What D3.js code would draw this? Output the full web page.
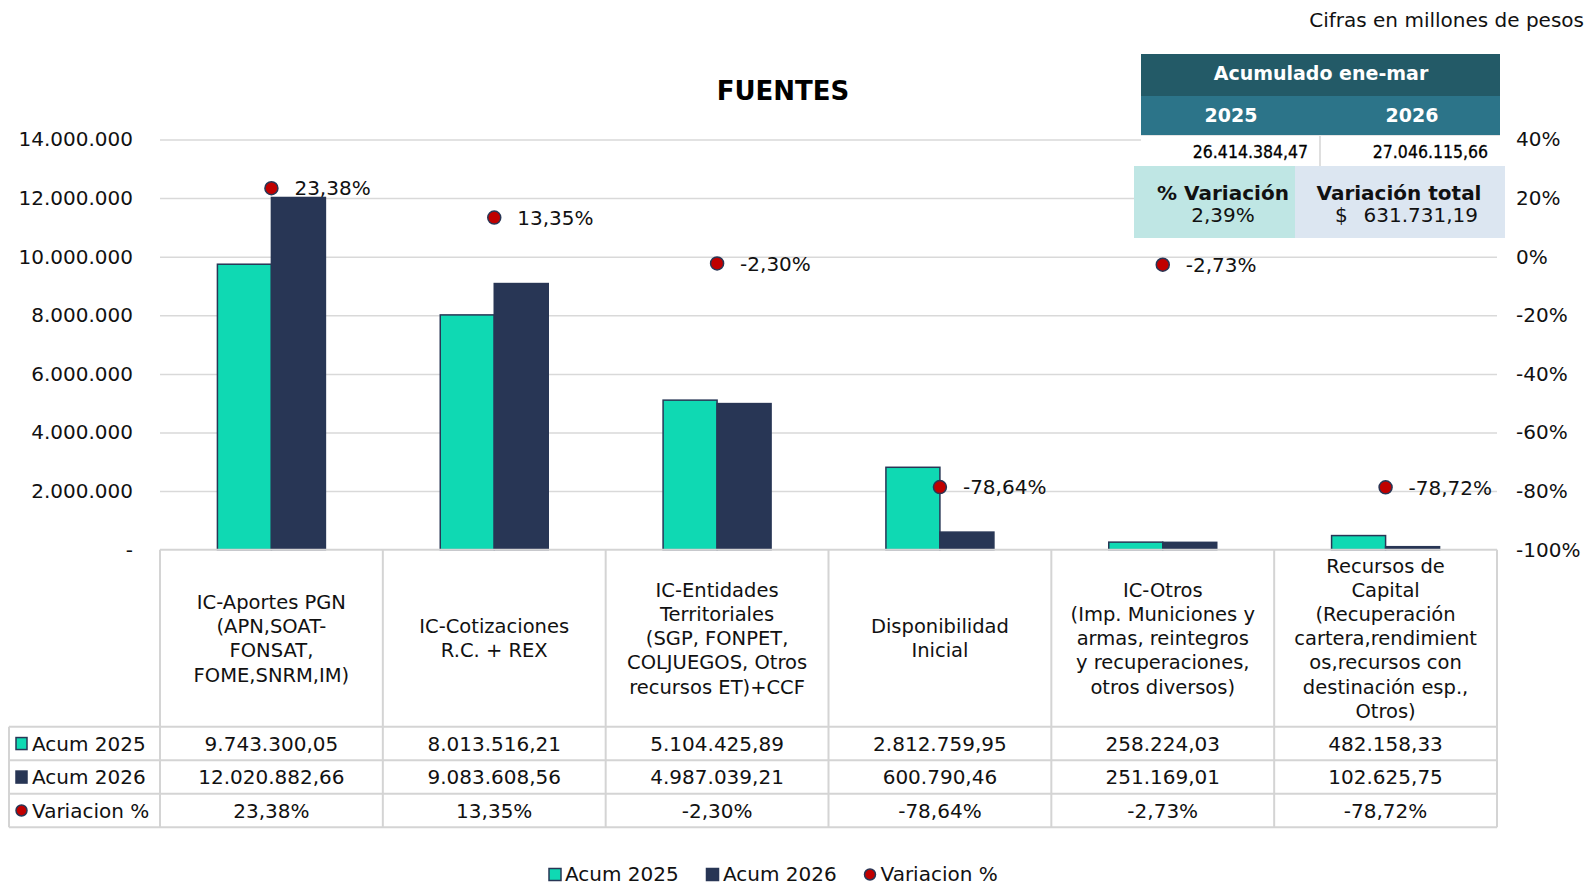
<!DOCTYPE html>
<html>
<head>
<meta charset="utf-8">
<script src="https://cdn.jsdelivr.net/npm/d3@7"></script>
<style>
  body { margin: 0; background: #fff; }
  svg { display: block; font-family: "DejaVu Sans", Verdana, sans-serif; }
  .grid line { stroke: #d9d9d9; stroke-width: 1.5; }
  .grid path { display: none; }
  .axis path { display: none; }
  .axis text { font-family: "DejaVu Sans", Verdana, sans-serif; font-size: 20px; fill: #111; }
  .tbl { stroke: #d4d4d4; stroke-width: 2; }
</style>
</head>
<body>
<div id="chart"></div>
<script>
// categories (already broken into lines as in the original table)
var categories = [
    ["IC-Aportes PGN", "(APN,SOAT-", "FONSAT,", "FOME,SNRM,IM)"],
    ["IC-Cotizaciones", "R.C. + REX"],
    ["IC-Entidades", "Territoriales", "(SGP, FONPET,", "COLJUEGOS, Otros", "recursos ET)+CCF"],
    ["Disponibilidad", "Inicial"],
    ["IC-Otros", "(Imp. Municiones y", "armas, reintegros", "y recuperaciones,", "otros diversos)"],
    ["Recursos de", "Capital", "(Recuperación", "cartera,rendimient", "os,recursos con", "destinación esp.,", "Otros)"]
];
var acum2025 = [9743300.05, 8013516.21, 5104425.89, 2812759.95, 258224.03, 482158.33];
var acum2026 = [12020882.66, 9083608.56, 4987039.21, 600790.46, 251169.01, 102625.75];
var variacion = [23.38, 13.35, -2.30, -78.64, -2.73, -78.72];

var leftTicks = [0, 2000000, 4000000, 6000000, 8000000, 10000000, 12000000, 14000000];
var rightTicks = [-100, -80, -60, -40, -20, 0, 20, 40];

var seriesNames = ["Acum 2025", "Acum 2026", "Variacion %"];

// summary box
var boxTitle = "Acumulado ene-mar";
var boxYears = ["2025", "2026"];
var boxTotals = [26414384.47, 27046115.66];
var totalVarPct = 2.39;
var totalVarAbs = 631731.19;

var colors = { c2025: "#0fd9b3", c2026: "#283655", dot: "#c00000" };

var W = 1596, H = 886;
var plot = { left: 160, right: 1497, top: 139.5, bottom: 549.7 };
var rowY = [726.8, 760.3, 793.8, 827.2];

var loc = d3.formatLocale({ decimal: ",", thousands: ".", grouping: [3], currency: ["$", ""], minus: "-" });
var fmtNum = loc.format(",.2f");
var fmtAxis = loc.format(",.0f");
var fmtPct = function(v) { return loc.format(".2f")(v) + "%"; };

var svg = d3.select("#chart").append("svg").attr("width", W).attr("height", H);

var x = d3.scaleBand().domain(d3.range(categories.length)).range([plot.left, plot.right]).padding(0);
var xs = d3.scaleBand().domain([0, 1]).range([-54, 54]).padding(0);
var y = d3.scaleLinear().domain([0, 14000000]).range([plot.bottom, plot.top]);
var y2 = d3.scaleLinear().domain([-100, 40]).range([plot.bottom, plot.top]);

// gridlines
svg.append("g").attr("class", "grid")
    .attr("transform", `translate(${plot.left},0)`)
    .call(d3.axisLeft(y).tickValues(leftTicks.slice(1)).tickSize(-(plot.right - plot.left)).tickFormat(""));

// axes
svg.append("g").attr("class", "axis")
    .attr("transform", `translate(${plot.left},0)`)
    .call(d3.axisLeft(y).tickValues(leftTicks).tickSize(0).tickPadding(27)
        .tickFormat(function(d) { return d === 0 ? "-" : fmtAxis(d); }));

svg.append("g").attr("class", "axis")
    .attr("transform", `translate(${plot.right},0)`)
    .call(d3.axisRight(y2).tickValues(rightTicks).tickSize(0).tickPadding(19)
        .tickFormat(function(d) { return loc.format("d")(d) + "%"; }));

// bars
var groups = svg.append("g").selectAll("g")
    .data(categories.map(function(c, i) { return [acum2025[i], acum2026[i]]; }))
    .enter().append("g")
    .attr("transform", function(d, i) { return `translate(${x(i) + x.bandwidth() / 2},0)`; });

groups.selectAll("rect")
    .data(function(d) { return d; })
    .enter().append("rect")
    .attr("x", function(d, j) { return xs(j); })
    .attr("width", xs.bandwidth())
    .attr("y", function(d) { return y(d); })
    .attr("height", function(d) { return y(0) - y(d); })
    .attr("fill", function(d, j) { return j === 0 ? colors.c2025 : colors.c2026; })
    .attr("stroke", colors.c2026)
    .attr("stroke-width", 1.5);

// variation dots + labels
var dots = svg.append("g").selectAll("g")
    .data(variacion)
    .enter().append("g")
    .attr("transform", function(d, i) { return `translate(${x(i) + x.bandwidth() / 2},${y2(d)})`; });

dots.append("circle").attr("r", 6.5).attr("fill", colors.dot)
    .attr("stroke", colors.c2026).attr("stroke-width", 1.5);
dots.append("text").attr("x", 23).attr("dy", "0.36em")
    .style("font-size", "20px").attr("fill", "#111")
    .text(function(d) { return fmtPct(d); });

// data table
var tbl = svg.append("g");
// horizontal lines
tbl.append("line").attr("class", "tbl").attr("x1", plot.left).attr("x2", plot.right)
    .attr("y1", plot.bottom).attr("y2", plot.bottom);
rowY.forEach(function(ry) {
    tbl.append("line").attr("class", "tbl").attr("x1", 9).attr("x2", plot.right).attr("y1", ry).attr("y2", ry);
});
// vertical lines
d3.range(categories.length + 1).forEach(function(i) {
    var xx = i < categories.length ? x(i) : plot.right;
    tbl.append("line").attr("class", "tbl").attr("x1", xx).attr("x2", xx)
        .attr("y1", plot.bottom).attr("y2", rowY[3]);
});
tbl.append("line").attr("class", "tbl").attr("x1", 9).attr("x2", 9).attr("y1", rowY[0]).attr("y2", rowY[3]);

// category labels
var lineH = 24.2, headMid = (plot.bottom + rowY[0]) / 2;
categories.forEach(function(lines, i) {
    var t = tbl.append("text").attr("text-anchor", "middle").style("font-size", "19.5px").attr("fill", "#111");
    lines.forEach(function(l, k) {
        t.append("tspan").attr("x", x(i) + x.bandwidth() / 2)
            .attr("y", headMid + (k - (lines.length - 1) / 2) * lineH)
            .attr("dy", "0.36em").text(l);
    });
});

// row values
var rows = [acum2025.map(fmtNum), acum2026.map(fmtNum), variacion.map(fmtPct)];
rows.forEach(function(vals, r) {
    var cy = (rowY[r] + rowY[r + 1]) / 2;
    vals.forEach(function(v, i) {
        tbl.append("text").attr("x", x(i) + x.bandwidth() / 2).attr("y", cy).attr("dy", "0.36em")
            .attr("text-anchor", "middle").style("font-size", "20px").attr("fill", "#111").text(v);
    });
    // row keys
    if (r < 2) {
        tbl.append("rect").attr("x", 16).attr("y", cy - 6).attr("width", 11).attr("height", 12)
            .attr("fill", r === 0 ? colors.c2025 : colors.c2026).attr("stroke", colors.c2026).attr("stroke-width", 1.5);
    } else {
        tbl.append("circle").attr("cx", 21.5).attr("cy", cy).attr("r", 5.5)
            .attr("fill", colors.dot).attr("stroke", colors.c2026).attr("stroke-width", 1.5);
    }
    tbl.append("text").attr("x", 32).attr("y", cy).attr("dy", "0.36em")
        .style("font-size", "20px").attr("fill", "#111").text(seriesNames[r]);
});

// legend
var legY = 874.5;
var leg = [
    { x: 549, tx: 565, kind: "rect", fill: colors.c2025 },
    { x: 706.5, tx: 723, kind: "rect", fill: colors.c2026 },
    { x: 870, tx: 880.5, kind: "dot", fill: colors.dot }
];
leg.forEach(function(l, i) {
    if (l.kind === "rect") {
        svg.append("rect").attr("x", l.x).attr("y", legY - 6).attr("width", 12).attr("height", 12)
            .attr("fill", l.fill).attr("stroke", colors.c2026).attr("stroke-width", 1.5);
    } else {
        svg.append("circle").attr("cx", l.x).attr("cy", legY).attr("r", 5.5)
            .attr("fill", l.fill).attr("stroke", colors.c2026).attr("stroke-width", 1.5);
    }
    svg.append("text").attr("x", l.tx).attr("y", legY).attr("dy", "0.33em")
        .style("font-size", "20px").attr("fill", "#111").text(seriesNames[i]);
});

// title + note
svg.append("text").attr("x", 783).attr("y", 91).attr("dy", "0.36em").attr("text-anchor", "middle")
    .style("font-size", "26px").style("font-weight", "bold").attr("fill", "#000").text("FUENTES");
svg.append("text").attr("x", 1584).attr("y", 19.5).attr("dy", "0.36em").attr("text-anchor", "end")
    .style("font-size", "20px").attr("fill", "#111").text("Cifras en millones de pesos");

// summary box
var box = svg.append("g");
box.append("rect").attr("x", 1141).attr("y", 54).attr("width", 359).attr("height", 42).attr("fill", "#235a67");
box.append("rect").attr("x", 1141).attr("y", 96).attr("width", 359).attr("height", 39).attr("fill", "#2c7489");
box.append("rect").attr("x", 1141).attr("y", 135).attr("width", 359).attr("height", 31).attr("fill", "#fff");
box.append("line").attr("x1", 1320).attr("x2", 1320).attr("y1", 135).attr("y2", 166).attr("stroke", "#d4d4d4").attr("stroke-width", 1.5);
box.append("line").attr("x1", 1141).attr("x2", 1500).attr("y1", 135.5).attr("y2", 135.5).attr("stroke", "#e4e4e4").attr("stroke-width", 1);
box.append("text").attr("x", 1321).attr("y", 73).attr("dy", "0.36em").attr("text-anchor", "middle")
    .style("font-size", "19px").style("font-weight", "bold").attr("fill", "#fff").text(boxTitle);
[1231, 1412].forEach(function(cx, i) {
    box.append("text").attr("x", cx).attr("y", 115).attr("dy", "0.36em").attr("text-anchor", "middle")
        .style("font-size", "19px").style("font-weight", "bold").attr("fill", "#fff").text(boxYears[i]);
});
[1308, 1488].forEach(function(rx, i) {
    box.append("text").attr("x", rx).attr("y", 152).attr("dy", "0.36em").attr("text-anchor", "end")
        .style("font-family", "'DejaVu Sans Condensed', 'DejaVu Sans', sans-serif")
        .style("font-size", "17.5px").attr("fill", "#000")
        .attr("stroke", "#000").attr("stroke-width", 0.3).text(fmtNum(boxTotals[i]));
});
box.append("rect").attr("x", 1134).attr("y", 166).attr("width", 161).attr("height", 72).attr("fill", "#bfe6e4");
box.append("rect").attr("x", 1295).attr("y", 166).attr("width", 210).attr("height", 72).attr("fill", "#dce6f1");
box.append("text").attr("x", 1223).attr("y", 192.5).attr("dy", "0.36em").attr("text-anchor", "middle")
    .style("font-size", "20px").style("font-weight", "bold").attr("fill", "#111").text("% Variación");
box.append("text").attr("x", 1223).attr("y", 215).attr("dy", "0.36em").attr("text-anchor", "middle")
    .style("font-size", "20px").attr("fill", "#111").text(fmtPct(totalVarPct));
box.append("text").attr("x", 1399).attr("y", 192.5).attr("dy", "0.36em").attr("text-anchor", "middle")
    .style("font-size", "20px").style("font-weight", "bold").attr("fill", "#111").text("Variación total");
box.append("text").attr("x", 1335).attr("y", 215).attr("dy", "0.36em")
    .style("font-size", "20px").attr("fill", "#111").text("$");
box.append("text").attr("x", 1478).attr("y", 215).attr("dy", "0.36em").attr("text-anchor", "end")
    .style("font-size", "20px").attr("fill", "#111").text(fmtNum(totalVarAbs));
</script>
</body>
</html>
